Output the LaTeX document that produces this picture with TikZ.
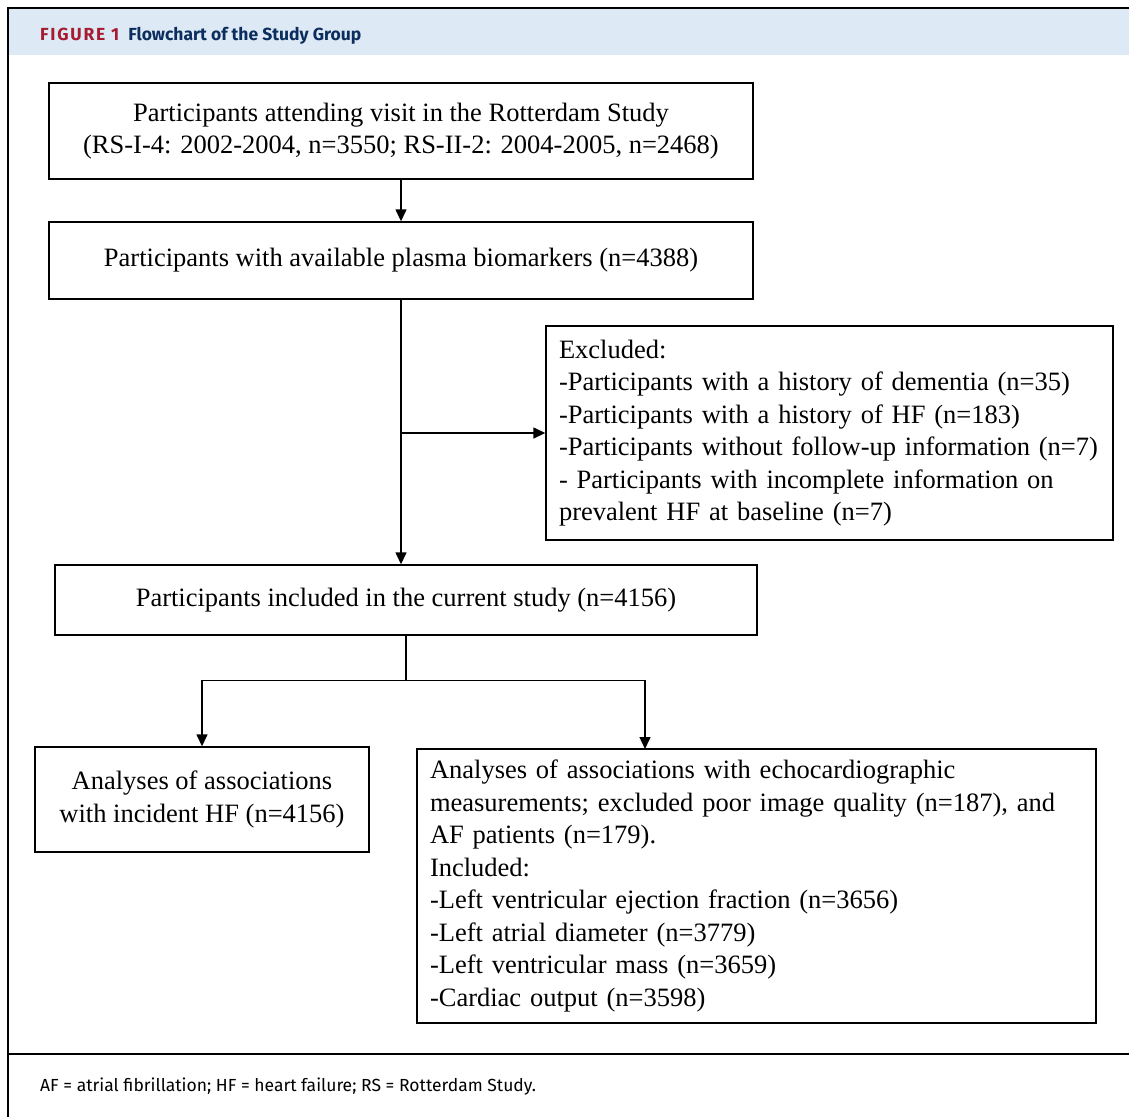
\documentclass[tikz,border=0pt]{standalone}
\usepackage{fontspec}
\setmainfont{Liberation Serif}
\newfontfamily\capfont{Fira Sans}
\usetikzlibrary{arrows.meta}
\definecolor{bandblue}{HTML}{DDE9F5}
\definecolor{figred}{HTML}{A51C30}
\definecolor{fignavy}{HTML}{0B2E5E}

\begin{document}
\begin{tikzpicture}[x=1pt,y=-1pt]
    \tikzstyle{box}=[draw,line width=1.4pt,font=\fontsize{26.5}{32.5}\selectfont,inner sep=0pt,align=center]
    \tikzstyle{lbox}=[box,align=left,inner xsep=13pt]
    \tikzstyle{arr}=[line width=1.4pt,-{Triangle[width=11pt,length=12pt]}]
    \useasboundingbox (0,0) rectangle (1129,1117);
    % frame and title band
    \fill[bandblue] (9,9) rectangle (1129,55);
    \draw[line width=2pt] (8,1117) -- (8,8) -- (1129,8);
    \draw[line width=2pt] (8,1054) -- (1129,1054);
    \node[anchor=base west,inner sep=0pt,font=\capfont\bfseries\fontsize{17.5}{20}\selectfont] (title) at (40,40)
        {\textcolor{figred}{\addfontfeatures{LetterSpace=10}FIGURE 1}\hspace{9pt}\textcolor{fignavy}{Flowchart of the Study Group}};
    \node[anchor=base west,inner sep=0pt,font=\capfont\fontsize{17.5}{20}\selectfont] (note) at (40,1091)
        {AF = atrial fibrillation; HF = heart failure; RS = Rotterdam Study.};
    % boxes
    \node[box,minimum width=704pt,minimum height=96pt] (visit) at (401,131)
        {Participants attending visit in the Rotterdam Study\\(RS-I-4: 2002-2004, n=3550; RS-II-2: 2004-2005, n=2468)};
    \node[box,minimum width=704pt,minimum height=77pt] (plasma) at (401,260.5)
        {Participants with available plasma biomarkers (n=4388)};
    \node[lbox,text width=541pt,minimum height=214pt] (excl) at (829.5,433)
        {Excluded:\\-Participants with a history of dementia (n=35)\\-Participants with a history of HF (n=183)\\-Participants without follow-up information (n=7)\\- Participants with incomplete information on\\prevalent HF at baseline (n=7)};
    \node[box,minimum width=702pt,minimum height=70pt] (incl) at (406,600)
        {Participants included in the current study (n=4156)};
    \node[box,minimum width=334pt,minimum height=105pt] (hf) at (202,799.5)
        {Analyses of associations\\with incident HF (n=4156)};
    \node[lbox,text width=653pt,minimum height=274pt] (echo) at (756.5,886)
        {Analyses of associations with echocardiographic\\measurements; excluded poor image quality (n=187), and\\AF patients (n=179).\\Included:\\-Left ventricular ejection fraction (n=3656)\\-Left atrial diameter (n=3779)\\-Left ventricular mass (n=3659)\\-Cardiac output (n=3598)};
    % connectors
    \draw[arr] (visit) -- (plasma);
    \draw[arr] (plasma.south) -- (plasma.south |- incl.north);
    \coordinate (side) at (plasma.south |- excl.west);
    \draw[arr] (side) -- (excl.west);
    \draw[line width=1.4pt] (incl.south) -- ++(0,45) coordinate (split);
    \coordinate (echotop) at (645,749);
    \draw[arr] (split) -| (hf.north);
    \draw[arr] (split) -| (echotop);
\end{tikzpicture}
\end{document}
